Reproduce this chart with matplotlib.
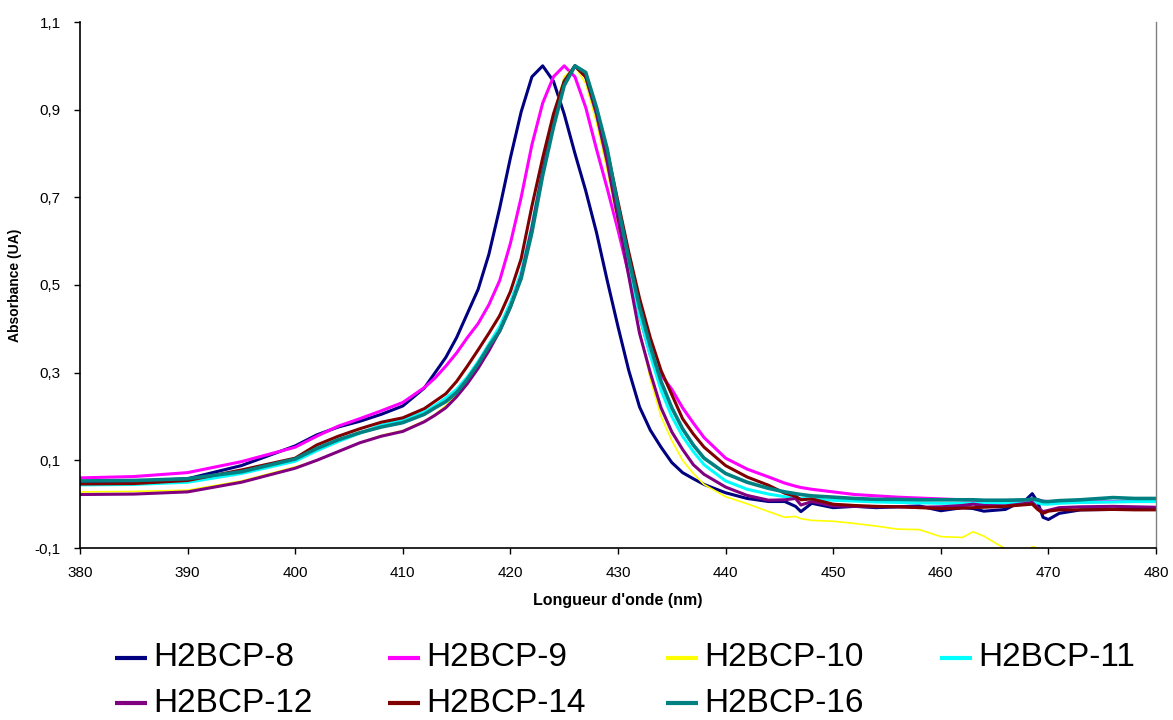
import matplotlib
matplotlib.use("Agg")
import matplotlib.pyplot as plt
from matplotlib.lines import Line2D
from matplotlib.ticker import FixedLocator

wavelength = [380, 385, 390, 395, 400, 402, 404, 406, 408, 410,
              412, 413, 414, 415, 416, 417, 418, 419, 420, 421, 422, 423, 424, 425,
              426, 427, 428, 429, 430, 431, 432, 433, 434, 435, 436, 437, 438,
              440, 442, 444, 445.5, 446.5, 447, 448,
              450, 452, 454, 456, 458, 460, 462, 463, 464, 466,
              468, 468.5, 469, 469.5, 470, 471, 473, 476, 478, 480]

h2bcp_8 = [0.050, 0.052, 0.058, 0.088, 0.133, 0.158, 0.176, 0.189, 0.205, 0.224,
           0.265, 0.300, 0.335, 0.380, 0.435, 0.490, 0.570, 0.675, 0.790, 0.895, 0.975, 1.000, 0.965, 0.890,
           0.800, 0.715, 0.620, 0.510, 0.405, 0.305, 0.222, 0.169, 0.130, 0.095, 0.072, 0.058, 0.045,
           0.026, 0.013, 0.006, 0.006, -0.005, -0.017, 0.002,
           -0.008, -0.005, -0.008, -0.006, -0.004, -0.015, -0.008, -0.010, -0.016, -0.012,
           0.012, 0.024, 0.005, -0.030, -0.035, -0.021, -0.013, -0.012, -0.012, -0.012]

h2bcp_9 = [0.060, 0.063, 0.072, 0.097, 0.130, 0.155, 0.178, 0.195, 0.213, 0.232,
           0.266, 0.288, 0.315, 0.345, 0.380, 0.412, 0.455, 0.510, 0.595, 0.700, 0.820, 0.915, 0.975, 1.000,
           0.975, 0.905, 0.810, 0.720, 0.625, 0.525, 0.430, 0.340, 0.295, 0.262, 0.220, 0.185, 0.152,
           0.105, 0.080, 0.062, 0.048, 0.041, 0.038, 0.034,
           0.028, 0.022, 0.019, 0.016, 0.014, 0.012, 0.010, 0.009, 0.007, 0.005,
           0.008, 0.011, 0.010, 0.007, 0.005, 0.005, 0.005, 0.006, 0.006, 0.006]

h2bcp_10 = [0.028, 0.029, 0.032, 0.053, 0.085, 0.100, 0.120, 0.140, 0.157, 0.168,
            0.190, 0.205, 0.225, 0.250, 0.280, 0.315, 0.355, 0.400, 0.455, 0.530, 0.640, 0.775, 0.890, 0.975,
            0.998, 0.960, 0.870, 0.760, 0.640, 0.520, 0.400, 0.285, 0.200, 0.145, 0.100, 0.070, 0.045,
            0.017, 0.001, -0.017, -0.030, -0.028, -0.033, -0.037,
            -0.039, -0.044, -0.050, -0.057, -0.058, -0.074, -0.076, -0.063, -0.073, -0.102,
            -0.105, -0.097, -0.100, -0.110, -0.115, -0.120, -0.125, -0.130, -0.135, -0.140]

h2bcp_11 = [0.044, 0.045, 0.050, 0.070, 0.098, 0.122, 0.143, 0.162, 0.180, 0.192,
            0.210, 0.225, 0.242, 0.262, 0.290, 0.325, 0.365, 0.405, 0.460, 0.530, 0.635, 0.765, 0.875, 0.965,
            1.000, 0.975, 0.890, 0.785, 0.660, 0.540, 0.430, 0.340, 0.260, 0.200, 0.155, 0.120, 0.090,
            0.053, 0.034, 0.023, 0.017, 0.014, 0.013, 0.012,
            0.009, 0.007, 0.005, 0.004, 0.003, 0.002, 0.002, 0.002, 0.002, 0.002,
            0.003, 0.004, 0.003, 0.000, 0.000, 0.002, 0.004, 0.005, 0.006, 0.006]

h2bcp_12 = [0.022, 0.023, 0.028, 0.050, 0.082, 0.100, 0.120, 0.140, 0.155, 0.166,
            0.188, 0.203, 0.220, 0.245, 0.275, 0.310, 0.350, 0.395, 0.450, 0.520, 0.630, 0.760, 0.870, 0.960,
            1.000, 0.975, 0.890, 0.780, 0.650, 0.520, 0.390, 0.300, 0.220, 0.165, 0.125, 0.090, 0.068,
            0.039, 0.020, 0.009, 0.010, 0.013, -0.002, 0.006,
            -0.004, -0.005, -0.006, -0.006, -0.007, -0.006, -0.003, 0.000, -0.003, -0.004,
            0.002, 0.004, -0.008, -0.017, -0.014, -0.008, -0.006, -0.005, -0.006, -0.007]

h2bcp_14 = [0.046, 0.047, 0.054, 0.078, 0.105, 0.135, 0.155, 0.172, 0.187, 0.197,
            0.218, 0.235, 0.252, 0.280, 0.315, 0.352, 0.390, 0.430, 0.485, 0.560, 0.680, 0.790, 0.890, 0.965,
            1.000, 0.975, 0.900, 0.805, 0.690, 0.575, 0.470, 0.380, 0.305, 0.250, 0.195, 0.160, 0.130,
            0.088, 0.062, 0.043, 0.025, 0.018, 0.010, 0.012,
            0.000, -0.003, -0.005, -0.006, -0.008, -0.010, -0.009, -0.008, -0.007, -0.005,
            -0.001, 0.000, -0.012, -0.021, -0.016, -0.013, -0.013, -0.012, -0.013, -0.013]

h2bcp_16 = [0.053, 0.054, 0.058, 0.074, 0.103, 0.127, 0.147, 0.163, 0.176, 0.186,
            0.205, 0.220, 0.234, 0.255, 0.285, 0.320, 0.360, 0.395, 0.450, 0.515, 0.620, 0.750, 0.860, 0.955,
            1.000, 0.985, 0.905, 0.810, 0.680, 0.560, 0.450, 0.360, 0.280, 0.220, 0.172, 0.135, 0.105,
            0.070, 0.050, 0.036, 0.028, 0.024, 0.022, 0.019,
            0.016, 0.013, 0.011, 0.011, 0.010, 0.010, 0.010, 0.010, 0.009, 0.009,
            0.010, 0.012, 0.010, 0.006, 0.006, 0.008, 0.010, 0.015, 0.013, 0.013]

labels = ["H2BCP-8", "H2BCP-9", "H2BCP-10", "H2BCP-11", "H2BCP-12", "H2BCP-14", "H2BCP-16"]
series = [h2bcp_8, h2bcp_9, h2bcp_10, h2bcp_11, h2bcp_12, h2bcp_14, h2bcp_16]
colors = ["#000080", "#FF00FF", "#FFFF00", "#00FFFF", "#800080", "#800000", "#008080"]
widths = [2.2, 2.2, 1.2, 2.2, 2.2, 2.2, 2.6]

x_ticks = [380, 390, 400, 410, 420, 430, 440, 450, 460, 470, 480]
y_ticks = [-0.1, 0.1, 0.3, 0.5, 0.7, 0.9, 1.1]
y_tick_labels = ["-0,1", "0,1", "0,3", "0,5", "0,7", "0,9", "1,1"]

plt.rcParams['font.family'] = ['Liberation Sans', 'DejaVu Sans']

W, H = 1173, 720
fig = plt.figure(figsize=(W / 100, H / 100), dpi=100)
ax = fig.add_axes([80 / W, 1 - 548 / H, (1156 - 80) / W, (548 - 22) / H])

for vals, lab, col, lw in zip(series, labels, colors, widths):
    ax.plot(wavelength, vals, color=col, lw=lw, label=lab, solid_joinstyle='round')

ax.set_xlim(380, 480)
ax.set_ylim(-0.1, 1.1)
ax.xaxis.set_major_locator(FixedLocator(x_ticks))
ax.set_yticks(y_ticks)
ax.set_yticklabels(y_tick_labels)
ax.tick_params(axis='both', direction='out', length=4, width=1, labelsize=11, colors='black')
ax.tick_params(axis='x', pad=9)
ax.tick_params(axis='y', pad=10)

ax.spines['top'].set_visible(False)
ax.spines['right'].set_color('#808080')
ax.spines['right'].set_linewidth(1)
ax.spines['left'].set_linewidth(1.2)
ax.spines['bottom'].set_linewidth(1.2)

ax.set_xlabel("Longueur d'onde (nm)", fontsize=11.5, fontweight='bold', labelpad=9)
ax.set_ylabel("Absorbance (UA)", fontsize=10, fontweight='bold', labelpad=9)

# legend laid out row by row like the reference
col_x = [115, 388, 666, 940]
row_y = [658, 703]
for i, (lab, col) in enumerate(zip(labels, colors)):
    r, c = divmod(i, 4)
    x0 = col_x[c]
    y = 1 - row_y[r] / H
    fig.add_artist(Line2D([x0 / W, (x0 + 32) / W], [y, y], transform=fig.transFigure,
                          color=col, lw=3, solid_capstyle='butt'))
    fig.text((x0 + 38) / W, y, lab, fontsize=24, va='center', ha='left')

fig.savefig("out.png", dpi=100)
